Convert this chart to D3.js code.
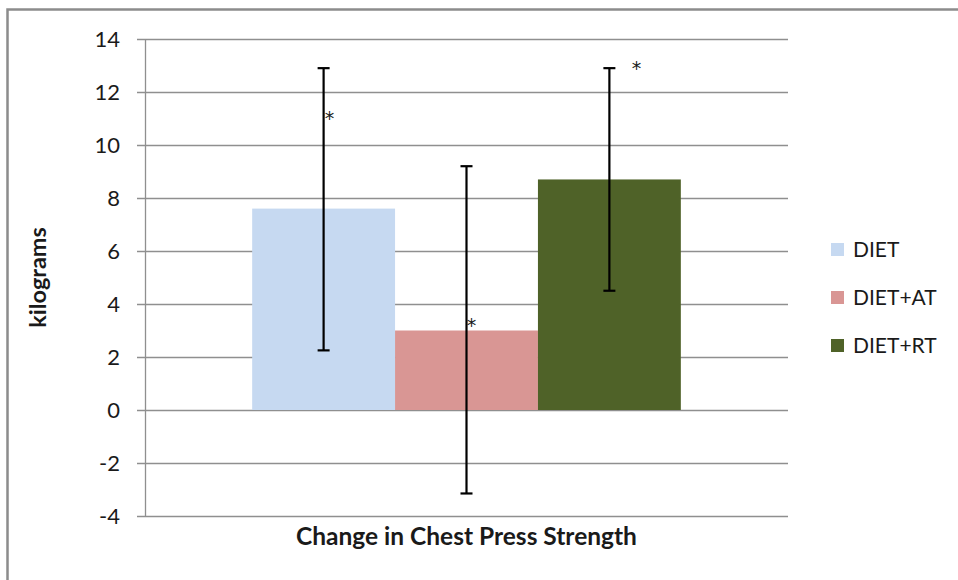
<!DOCTYPE html>
<html>
<head>
<meta charset="utf-8">
<script src="https://cdn.jsdelivr.net/npm/d3@7"></script>
<style>
  body { margin: 0; background: #fff; }
  text { font-family: Lato, "Open Sans", sans-serif; fill: #1a1a1a; }
</style>
</head>
<body>
<div id="chart-area"></div>
<script>
// chart data
var categories = ["Change in Chest Press Strength"];
var groups = ["DIET", "DIET+AT", "DIET+RT"];
var means = [7.6, 3.0, 8.7];
var errLow = [2.25, -3.15, 4.5];
var errHigh = [12.9, 9.2, 12.9];
var starAt = [11.1, 3.3, 13.0];
var yTicks = [-4, -2, 0, 2, 4, 6, 8, 10, 12, 14];
var colors = ["#c6d9f1", "#d99694", "#4f6228"];

var width = 958;
var height = 580;

var svg = d3.select("#chart-area").append("svg")
  .attr("width", width)
  .attr("height", height);

// outer frame
svg.append("rect")
  .attr("x", 7.5).attr("y", 9.5)
  .attr("width", 980).attr("height", 600)
  .attr("fill", "none")
  .attr("stroke", "#8c8c8c")
  .attr("stroke-width", 2.5);

var plotLeft = 145, plotRight = 788, plotTop = 39, plotBottom = 516;

// scales
var y = d3.scaleLinear().domain([-4, 14]).range([plotBottom, plotTop]);
var x0 = d3.scaleBand().domain(categories).range([plotLeft, plotRight]);
var x1 = d3.scaleBand().domain(groups)
  .range([0, x0.bandwidth()])
  .paddingInner(0)
  .paddingOuter(0.75);

// gridlines
svg.append("g")
  .selectAll("line")
  .data(yTicks)
  .enter().append("line")
  .attr("x1", plotLeft - 8)
  .attr("x2", plotRight)
  .attr("y1", function(d){ return Math.round(y(d)) + 0.5; })
  .attr("y2", function(d){ return Math.round(y(d)) + 0.5; })
  .attr("stroke", "#8f8f8f")
  .attr("stroke-width", 1.3);

// y axis line
svg.append("line")
  .attr("x1", plotLeft + 0.5).attr("x2", plotLeft + 0.5)
  .attr("y1", plotTop).attr("y2", plotBottom)
  .attr("stroke", "#8f8f8f")
  .attr("stroke-width", 1.3);

// tick labels (plain hyphen for negatives, like the original)
var yAxis = d3.axisLeft(y).tickValues(yTicks).tickSize(0).tickPadding(25)
  .tickFormat(function(d){ return String(d); });
var axisG = svg.append("g")
  .attr("transform", "translate(" + plotLeft + ",0)")
  .call(yAxis);
axisG.select(".domain").remove();
axisG.selectAll("text")
  .style("font-family", "Lato, 'Open Sans', sans-serif")
  .style("font-size", "22px")
  .attr("fill", "#1a1a1a");

var cat = categories[0];

// bars
svg.append("g")
  .selectAll("rect")
  .data(means)
  .enter().append("rect")
  .attr("x", function(d, i){ return x0(cat) + x1(groups[i]); })
  .attr("width", x1.bandwidth())
  .attr("y", function(d){ return y(Math.max(0, d)); })
  .attr("height", function(d){ return Math.abs(y(d) - y(0)); })
  .attr("fill", function(d, i){ return colors[i]; });

// error bars
var eb = svg.append("g")
  .attr("stroke", "#000")
  .attr("stroke-width", 2.2);
means.forEach(function(d, i){
  var cx = x0(cat) + x1(groups[i]) + x1.bandwidth() / 2;
  eb.append("line")
    .attr("x1", cx).attr("x2", cx)
    .attr("y1", y(errLow[i])).attr("y2", y(errHigh[i]));
  eb.append("line")
    .attr("x1", cx - 6).attr("x2", cx + 6)
    .attr("y1", y(errLow[i])).attr("y2", y(errLow[i]));
  eb.append("line")
    .attr("x1", cx - 6).attr("x2", cx + 6)
    .attr("y1", y(errHigh[i])).attr("y2", y(errHigh[i]));
});

// significance asterisks
var starDx = [6, 5, 27];
svg.append("g")
  .selectAll("text")
  .data(starAt)
  .enter().append("text")
  .attr("x", function(d, i){ return x0(cat) + x1(groups[i]) + x1.bandwidth() / 2 + starDx[i]; })
  .attr("y", function(d){ return y(d) + 9; })
  .attr("text-anchor", "middle")
  .style("font-family", "'DejaVu Sans', sans-serif")
  .style("font-size", "19px")
  .attr("fill", "#333")
  .text("*");

// category label
svg.append("text")
  .attr("x", (plotLeft + plotRight) / 2)
  .attr("y", 545)
  .attr("text-anchor", "middle")
  .style("font-size", "24.5px")
  .style("font-weight", "bold")
  .text(cat);

// y title
svg.append("text")
  .attr("transform", "translate(46," + ((plotTop + plotBottom) / 2) + ") rotate(-90)")
  .attr("text-anchor", "middle")
  .style("font-size", "23.5px")
  .style("font-weight", "bold")
  .text("kilograms");

// legend
var legend = svg.append("g").attr("class", "legend");
groups.forEach(function(g, i){
  var ly = 249 + i * 48;
  legend.append("rect")
    .attr("x", 831).attr("y", ly - 6)
    .attr("width", 13).attr("height", 13)
    .attr("fill", colors[i]);
  legend.append("text")
    .attr("x", 853).attr("y", ly + 8)
    .style("font-size", "21px")
    .text(g);
});
</script>
</body>
</html>
